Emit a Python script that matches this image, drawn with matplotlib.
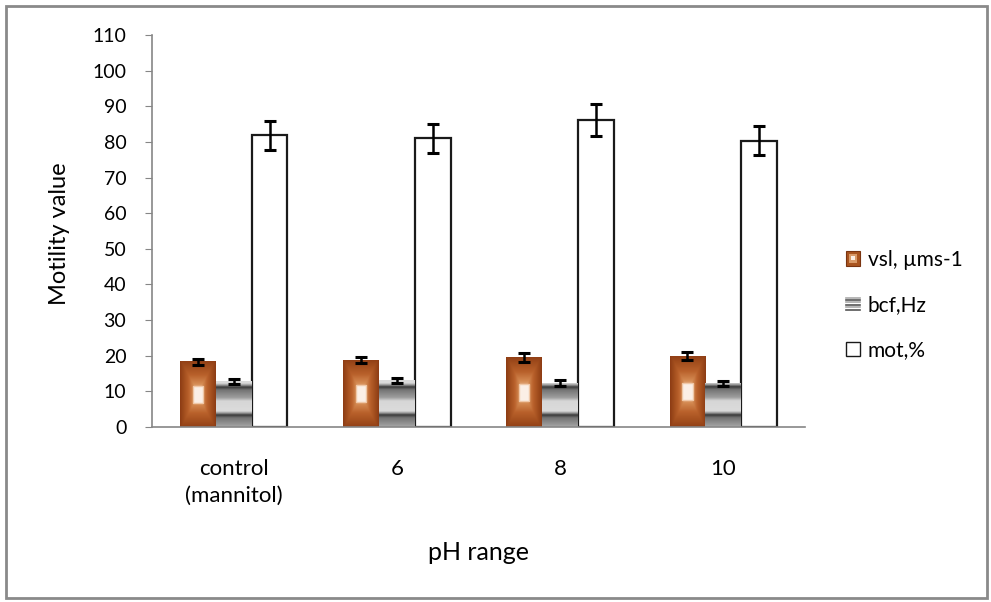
import numpy as np
import matplotlib
matplotlib.use("Agg")
import matplotlib.pyplot as plt
from matplotlib.patches import Rectangle
from matplotlib.lines import Line2D
from matplotlib.legend_handler import HandlerBase
from matplotlib.colors import LinearSegmentedColormap

plt.rcParams['font.family'] = ['Lato', 'DejaVu Sans']

# ---- data ----
categories = ["control\n(mannitol)", "6", "8", "10"]
series_names = ["vsl, \u00b5ms-1", "bcf,Hz", "mot,%"]
vsl = [18.3, 18.8, 19.5, 19.9]
vsl_err = [0.9, 0.9, 1.2, 1.2]
bcf = [12.9, 13.1, 12.3, 12.2]
bcf_err = [0.7, 0.7, 0.8, 0.7]
mot = [81.8, 81.0, 86.2, 80.3]
mot_err = [4.1, 4.1, 4.5, 4.1]
y_ticks = list(range(0, 111, 10))

W, H = 991, 602
fig = plt.figure(figsize=(W / 100, H / 100), dpi=100)
ax = fig.add_axes([152 / W, 1 - 427 / H, (805 - 152) / W, (427 - 35) / H])

x = np.arange(len(categories))
bw = 0.22

brown = LinearSegmentedColormap.from_list(
    "br", ["#f3d2b4", "#d48a52", "#b9612b", "#a14d1d", "#883812"])

# vsl bars (gradient rectangles)
b1 = ax.bar(x - bw, vsl, bw, color="#b5602c", edgecolor="none", zorder=2)
for r in b1:
    x0, w, h = r.get_x(), r.get_width(), r.get_height()
    ny, nx = 120, 60
    u = np.abs(np.linspace(-1, 1, nx))[None, :]
    v = np.abs(np.linspace(-1, 1, ny))[:, None]
    d = np.maximum(u * 0.95, v * 0.95 - 0.05)
    d = np.clip(d, 0, 1)
    img = brown(d)
    ax.imshow(img, extent=(x0, x0 + w, 0, h), aspect="auto",
              interpolation="bilinear", zorder=2.1)
    cx, cy = x0 + w / 2, h / 2
    iw, ih = 0.062, 4.8
    ax.add_patch(Rectangle((cx - iw / 2, cy - ih / 2), iw, ih,
                           facecolor="#fbefe6", edgecolor="#f0c8a8",
                           lw=1.0, zorder=2.2))

# bcf bars (striped texture)
b2 = ax.bar(x, bcf, bw, color="#c8c8c8", edgecolor="none", zorder=2)
ppu = 3.564  # pixels per data unit
ph_pts = [0.0, 0.06, 0.14, 0.5, 0.62, 0.9, 1.0]
ph_val = [0.22, 0.55, 0.86, 0.84, 0.62, 0.45, 0.22]
for r in b2:
    x0, w, h = r.get_x(), r.get_width(), r.get_height()
    ys = np.linspace(h, 0, 200)
    phase = ((ys * ppu - 12.0) % 28.0) / 28.0
    val = np.interp(phase, ph_pts, ph_val)
    img = np.repeat(val[:, None], 10, axis=1)
    rgb = np.dstack([img, img, img])
    ax.imshow(rgb, extent=(x0, x0 + w, 0, h), aspect="auto",
              interpolation="bilinear", zorder=2.1)

# mot bars
ax.bar(x + bw, mot, bw, color="white", edgecolor="#1a1a1a", lw=1.6, zorder=2)

ekw = dict(fmt="none", ecolor="black", elinewidth=1.8, capsize=4.2,
           capthick=2.2, zorder=3)
ax.errorbar(x - bw, vsl, yerr=vsl_err, **ekw)
ax.errorbar(x, bcf, yerr=bcf_err, **ekw)
ax.errorbar(x + bw, mot, yerr=mot_err, **ekw)

ax.set_xlim(-0.5, len(categories) - 0.5)
ax.set_ylim(0, 110)
ax.set_yticks(y_ticks)
ax.set_xticks(x)
ax.set_xticklabels(categories, fontsize=16, linespacing=1.45)
ax.tick_params(axis="y", length=5, color="#868686", labelsize=14, pad=13.5)
ax.tick_params(axis="x", length=0, pad=23)
for s in ["top", "right"]:
    ax.spines[s].set_visible(False)
for s in ["left", "bottom"]:
    ax.spines[s].set_color("#868686")
    ax.spines[s].set_linewidth(1.2)
ax.patch.set_alpha(0)

fig.text(59 / W, 1 - 234 / H, "Motility value", rotation=90, fontsize=17,
         ha="center", va="center")
fig.text(478 / W, 1 - 553 / H, "pH range", fontsize=18,
         ha="center", va="center")


# legend handlers
class VslHandler(HandlerBase):
    def create_artists(self, legend, orig, xd, yd, width, height, fontsize, trans):
        s = min(width, height)
        x0 = xd + (width - s) / 2
        y0 = yd + (height - s) / 2
        outer = Rectangle((x0, y0), s, s, facecolor="#a9541f",
                          edgecolor="#7a3410", lw=0.8, transform=trans)
        mid = Rectangle((x0 + s * 0.2, y0 + s * 0.2), s * 0.6, s * 0.6,
                        facecolor="#d99a68", edgecolor="none", transform=trans)
        inner = Rectangle((x0 + s * 0.35, y0 + s * 0.35), s * 0.3, s * 0.3,
                          facecolor="#fbefe6", edgecolor="none", transform=trans)
        return [outer, mid, inner]


class BcfHandler(HandlerBase):
    def create_artists(self, legend, orig, xd, yd, width, height, fontsize, trans):
        s = min(width, height)
        x0 = xd + (width - s) / 2
        y0 = yd + (height - s) / 2
        arts = []
        for k in range(6):
            yy = y0 + s * (k + 0.5) / 6
            c = "#555555" if k % 2 == 0 else "#aaaaaa"
            arts.append(Line2D([x0, x0 + s], [yy, yy], color=c, lw=1.2,
                               transform=trans))
        return arts


class MotHandler(HandlerBase):
    def create_artists(self, legend, orig, xd, yd, width, height, fontsize, trans):
        s = min(width, height)
        x0 = xd + (width - s) / 2
        y0 = yd + (height - s) / 2
        return [Rectangle((x0, y0), s, s, facecolor="white",
                          edgecolor="#1a1a1a", lw=1.0, transform=trans)]


class Key:
    pass


hv, hb, hm = Key(), Key(), Key()
leg = fig.legend([hv, hb, hm], series_names,
                 handler_map={hv: VslHandler(), hb: BcfHandler(), hm: MotHandler()},
                 loc="center left", bbox_to_anchor=(827 / W, 1 - 305 / H),
                 frameon=False, fontsize=15, handlelength=0.7, handleheight=0.7,
                 handletextpad=0.35, labelspacing=1.22)

fig.add_artist(Rectangle((6 / W, 4 / H), (987 - 6) / W, (596 - 4) / H,
                         transform=fig.transFigure, facecolor="none",
                         edgecolor="#8a8a8a", lw=2.0))

fig.savefig("out.png", dpi=100)
